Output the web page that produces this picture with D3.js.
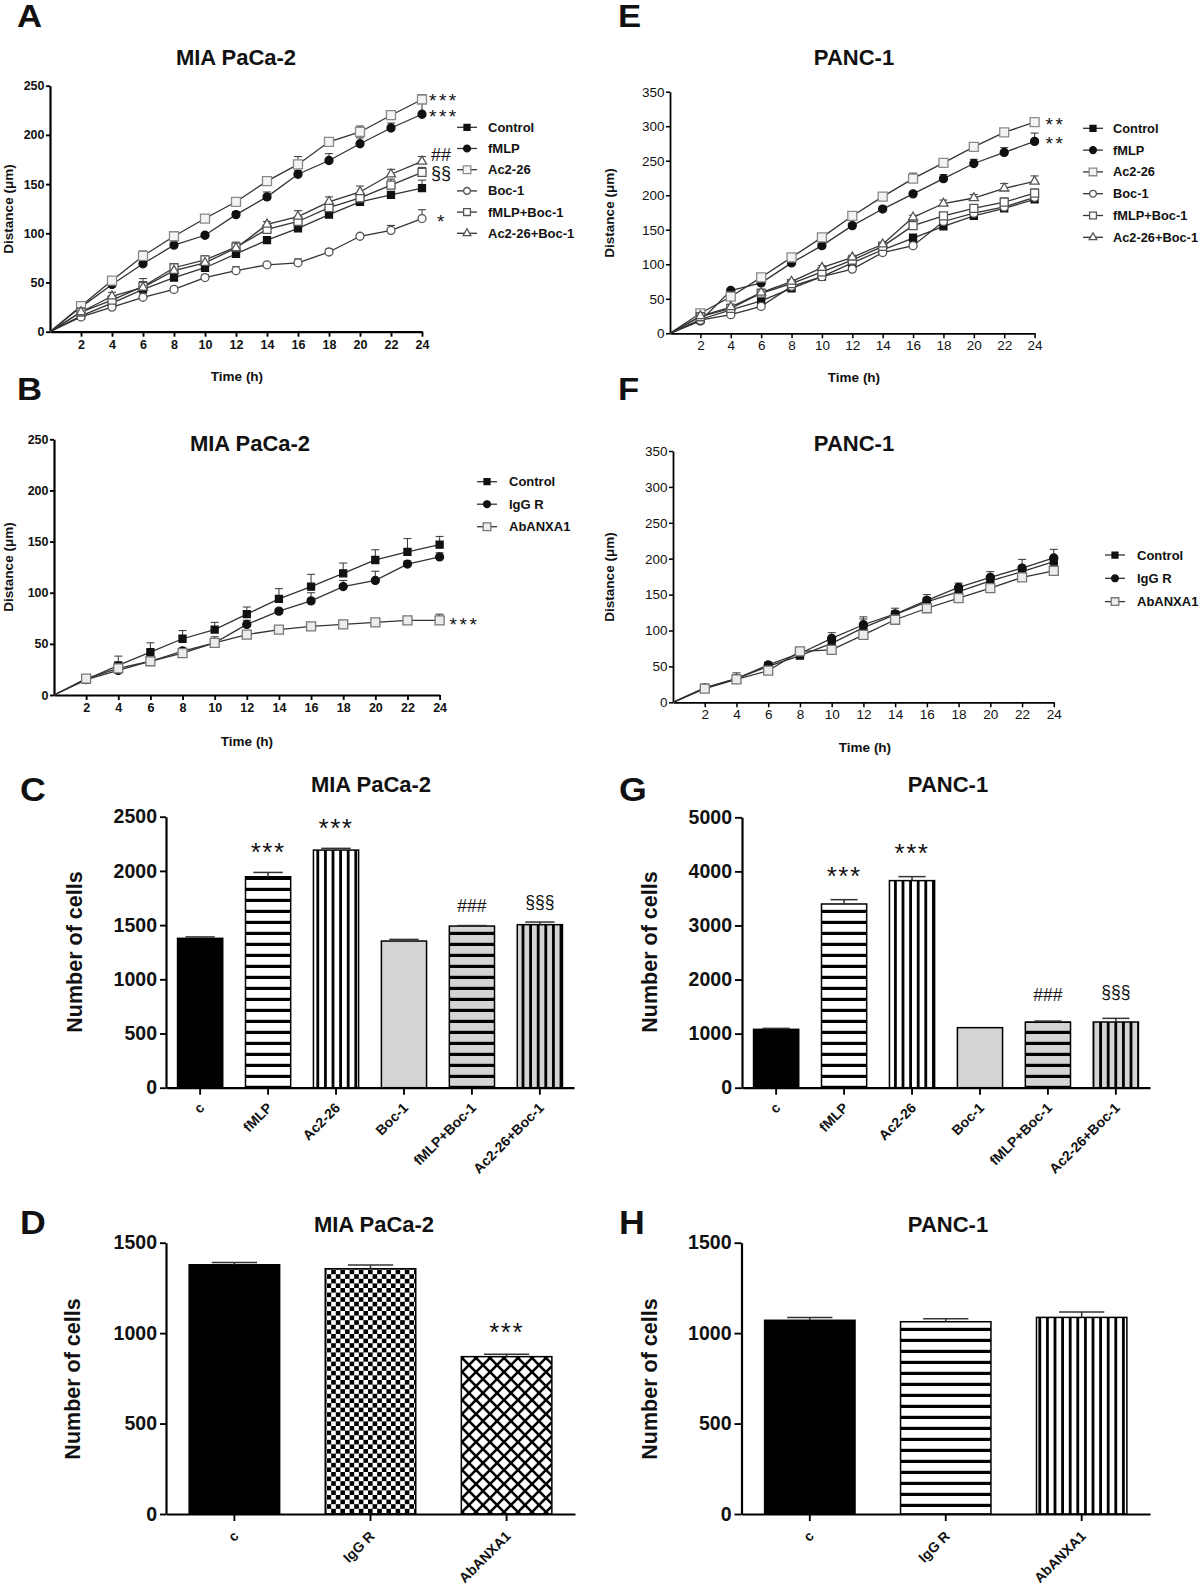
<!DOCTYPE html>
<html><head><meta charset="utf-8">
<script src="https://cdn.jsdelivr.net/npm/d3@7"></script>
<style>body{margin:0;background:#fff}svg{display:block}text{font-family:"Liberation Sans",Arial,Helvetica,sans-serif}</style>
</head><body><svg id="c" width="1200" height="1589"></svg>
<script>
// ---------------- DATA ----------------
const hours = [2,4,6,8,10,12,14,16,18,20,22,24];
const names6 = ["Control","fMLP","Ac2-26","Boc-1","fMLP+Boc-1","Ac2-26+Boc-1"];
const names3 = ["Control","IgG R","AbANXA1"];

// Panel A – MIA PaCa-2 distance (µm)
const A_Control = [16,29,43,55,65,79,93,105,119,132,139,146];
const A_fMLP    = [25,48,69,88,98,119,137,160,174,191,207,221];
const A_Ac226   = [26,52,77,97,115,132,153,170,193,203,220,236];
const A_Boc1    = [15,25,35,43,55,62,68,70,81,97,103,115];
const A_fMLPBoc1  = [20,32,46,65,73,86,104,112,126,136,149,162];
const A_Ac226Boc1 = [20,36,45,62,70,85,109,117,132,142,160,173];
const A_Control_err = [2,3,4,3,3,3,3,3,3,3,3,8];
const A_fMLP_err    = [2,2,3,2,2,3,5,4,7,6,5,12];
const A_Ac226_err   = [2,2,5,2,3,2,4,8,2,6,3,5];
const A_Boc1_err    = [2,2,2,2,3,4,2,4,3,2,5,9];
const A_fMLPBoc1_err  = [2,4,8,3,4,5,8,5,5,5,6,5];
const A_Ac226Boc1_err = [2,4,6,3,4,4,3,6,5,6,5,5];

// Panel E – PANC-1 distance (µm)
const E_Control = [20,34,47,65,82,102,121,138,155,170,181,194];
const E_fMLP    = [18,62,73,102,127,156,180,202,224,246,262,278];
const E_Ac226   = [29,53,81,110,139,170,198,224,247,270,291,306];
const E_Boc1    = [19,27,39,68,82,93,117,127,162,174,183,197];
const E_fMLPBoc1  = [24,36,58,72,89,106,126,156,170,181,190,203];
const E_Ac226Boc1 = [25,38,59,75,95,110,129,168,188,196,210,220];
const E_Control_err = [2,3,3,2,3,4,3,6,3,3,3,4];
const E_fMLP_err    = [2,3,3,3,3,3,4,3,6,6,7,12];
const E_Ac226_err   = [2,3,3,3,3,2,3,8,2,4,2,4];
const E_Boc1_err    = [2,2,3,2,2,3,3,3,3,3,3,4];
const E_fMLPBoc1_err  = [2,3,3,2,3,3,3,10,3,4,6,6];
const E_Ac226Boc1_err = [2,4,3,3,3,3,3,3,5,5,7,8];

// Panel B – MIA PaCa-2 distance (µm)
const B_Control = [15,29,42,55,64,79,94,106,119,132,140,147];
const B_IgG     = [15,24,33,43,51,69,82,92,106,112,128,135];
const B_Ab      = [16,26,33,41,51,59,64,67,69,71,73,73];
const B_Control_err = [3,9,9,8,7,7,10,12,10,10,13,8];
const B_IgG_err     = [2,2,2,3,6,4,2,8,6,9,3,4];
const B_Ab_err      = [3,3,2,3,4,3,2,3,3,3,2,6];

// Panel F – PANC-1 distance (µm)
const F_Control = [20,33,50,65,82,104,122,140,154,169,182,196];
const F_IgG     = [20,33,52,68,89,108,123,142,160,174,187,201];
const F_Ab      = [19,32,44,71,73,94,115,131,145,159,174,183];
const F_Control_err = [3,8,5,3,6,12,5,6,5,5,7,6];
const F_IgG_err     = [3,4,4,3,8,11,8,8,6,8,12,12];
const F_Ab_err      = [3,3,3,3,3,3,3,3,3,3,3,3];

// Bar panels
const C_cats = ["c","fMLP","Ac2-26","Boc-1","fMLP+Boc-1","Ac2-26+Boc-1"];
const C_values = [1378,1946,2192,1353,1491,1504];
const C_errors = [13,40,16,15,5,24];
const C_marks  = ["","***","***","","###","§§§"];
const G_values = [1079,3397,3829,1110,1215,1215];
const G_errors = [18,80,74,0,18,67];
const G_marks  = ["","***","***","","###","§§§"];
const D_cats = ["c","IgG R","AbANXA1"];
const D_values = [1378,1356,870];
const D_errors = [13,21,13];
const D_marks  = ["","","***"];
const H_values = [1071,1063,1087];
const H_errors = [16,17,30];
const H_marks  = ["","",""];

const ticksA = [0,50,100,150,200,250];
const ticksE = [0,50,100,150,200,250,300,350];
const ticksC = [0,500,1000,1500,2000,2500];
const ticksG = [0,1000,2000,3000,4000,5000];
const ticksD = [0,500,1000,1500];

// ---------------- DRAWING ----------------
const FONT = '"Liberation Sans", Arial, Helvetica, sans-serif';
const svg = d3.select("#c");
const defs = svg.append("defs");

const markerStyle = {
  "Control":      {type:"square",   fill:"#111", stroke:"#111", size:7},
  "fMLP":         {type:"circle",   fill:"#111", stroke:"#111", size:8},
  "Ac2-26":       {type:"square",   fill:"#f4f4f4", stroke:"#8a8a8a", size:9},
  "Boc-1":        {type:"circle",   fill:"#fff", stroke:"#555", size:8},
  "fMLP+Boc-1":   {type:"square",   fill:"#fff", stroke:"#555", size:8},
  "Ac2-26+Boc-1": {type:"triangle", fill:"#fff", stroke:"#555", size:9},
  "IgG R":        {type:"circle",   fill:"#111", stroke:"#111", size:8},
  "AbANXA1":      {type:"square",   fill:"#ececec", stroke:"#777", size:9}
};
function drawMarker(g, name, cx, cy, k) {
  k = k || 1;
  const st = markerStyle[name];
  const sym = {square:d3.symbolSquare, circle:d3.symbolCircle, triangle:d3.symbolTriangle}[st.type];
  const s = st.size * k;
  const area = st.type==="square" ? s*s : st.type==="circle" ? Math.PI*s*s/4 : s*s*0.45;
  g.append("path").attr("d", d3.symbol(sym, area)()).attr("transform",`translate(${cx},${cy})`)
    .attr("fill", st.fill).attr("stroke", st.stroke).attr("stroke-width", 1.3);
}
function txt(g, s, x, y, o) {
  o = o || {};
  const t = g.append("text").attr("x", x).attr("y", y).text(s)
    .attr("font-size", o.size || 13).attr("font-weight", o.weight || "bold")
    .attr("text-anchor", o.anchor || "start").attr("fill", o.fill || "#111");
  if (o.rotate) t.attr("transform", `rotate(${o.rotate},${x},${y})`);
  if (o.ls) t.attr("letter-spacing", o.ls);
  if (o.db) t.attr("dominant-baseline", o.db);
  return t;
}
function panelLetter(s, x, y, size, sx) {
  svg.append("text").attr("transform", `translate(${x},${y}) scale(${sx},1)`)
    .attr("font-size", size).attr("font-weight","bold").attr("fill","#111").text(s);
}
function styleAxis(a, w, fs, fw) {
  a.select(".domain").attr("stroke","#000").attr("stroke-width", w);
  a.selectAll(".tick line").attr("stroke","#000").attr("stroke-width", w*0.85);
  a.selectAll("text").attr("font-family", FONT).attr("font-size", fs).attr("font-weight", fw).attr("fill","#111");
}

function linePanel(c) {
  const g = svg.append("g");
  const x = d3.scaleLinear().domain([0,24]).range([c.x0, c.x1]);
  const y = d3.scaleLinear().domain([0,c.yMax]).range([c.yBottom, c.yTop]);
  const xa = g.append("g").attr("transform",`translate(0,${c.yBottom})`)
    .call(d3.axisBottom(x).tickValues(hours).tickSize(5).tickSizeOuter(0).tickPadding(c.xPad));
  const ya = g.append("g").attr("transform",`translate(${c.x0},0)`)
    .call(d3.axisLeft(y).tickValues(c.yTicks).tickSize(4).tickSizeOuter(0).tickPadding(1.5));
  styleAxis(xa, c.axisW, c.tickFs, c.tickW);
  styleAxis(ya, c.axisW, c.tickFs, c.tickW);
  const line = d3.line().x(d=>x(d[0])).y(d=>y(d[1]));
  c.series.forEach(s => {
    const pts = [[0,0]].concat(hours.map((h,i)=>[h, s.values[i]]));
    g.append("path").attr("d", line(pts)).attr("fill","none").attr("stroke","#333").attr("stroke-width",1.3);
  });
  c.series.forEach(s => {
    hours.forEach((h,i) => {
      const e = s.errors[i]; if (!e) return;
      const cx = x(h), y1 = y(s.values[i]), y2 = y(s.values[i]+e);
      g.append("line").attr("x1",cx).attr("x2",cx).attr("y1",y1).attr("y2",y2).attr("stroke","#444").attr("stroke-width",1.1);
      g.append("line").attr("x1",cx-4).attr("x2",cx+4).attr("y1",y2).attr("y2",y2).attr("stroke","#444").attr("stroke-width",1.1);
    });
  });
  c.series.forEach(s => hours.forEach((h,i) => drawMarker(g, s.name, x(h), y(s.values[i]))));
  // legend
  c.series.forEach((s,i) => {
    const ly = c.legY + i*c.legStep;
    g.append("line").attr("x1",c.legX).attr("x2",c.legX+20).attr("y1",ly).attr("y2",ly).attr("stroke","#333").attr("stroke-width",1.3);
    drawMarker(g, s.name, c.legX+10, ly, 0.85);
    txt(g, s.name, c.legX+c.legGap, ly, {size:c.legFs, weight:"bold", db:"central"});
  });
  // annotations at the 24 h point
  c.ann.forEach(a => {
    const s = c.series.find(d => d.name === a.series);
    txt(g, a.text, x(24)+a.dx, y(s.values[11])+a.dy, {size:a.size, weight:"normal", ls:a.ls||0});
  });
  txt(g, c.title, c.titleX, c.titleY, {size:22, anchor:"middle"});
  txt(g, "Time (h)", c.xLabX, c.xLabY, {size:13.5, anchor:"middle"});
  txt(g, "Distance (\u03bcm)", c.yLabX, c.yLabY, {size:13.5, anchor:"middle", rotate:-90});
}

// patterns
function stripes(id, bg, dir, period, thick) {
  const w = dir==="h" ? 10 : period, h = dir==="h" ? period : 10;
  const p = defs.append("pattern").attr("id",id).attr("patternUnits","userSpaceOnUse").attr("width",w).attr("height",h);
  p.append("rect").attr("width",w).attr("height",h).attr("fill",bg);
  if (dir==="h") p.append("rect").attr("y",period-thick).attr("width",w).attr("height",thick).attr("fill","#000");
  else p.append("rect").attr("x",period-thick).attr("width",thick).attr("height",h).attr("fill","#000");
}
stripes("hW","#fff","h",11,3.2);
stripes("vW","#fff","v",7.6,2.8);
stripes("hG","#d4d4d4","h",11,3.2);
stripes("vG","#d4d4d4","v",7.6,2.8);
(function(){
  const s = 4.6;
  const p = defs.append("pattern").attr("id","checker").attr("patternUnits","userSpaceOnUse").attr("width",2*s).attr("height",2*s);
  p.append("rect").attr("width",2*s).attr("height",2*s).attr("fill","#fff");
  p.append("rect").attr("width",s).attr("height",s).attr("fill","#000");
  p.append("rect").attr("x",s).attr("y",s).attr("width",s).attr("height",s).attr("fill","#000");
  const k = 14;
  const q = defs.append("pattern").attr("id","cross").attr("patternUnits","userSpaceOnUse").attr("width",k).attr("height",k);
  q.append("rect").attr("width",k).attr("height",k).attr("fill","#fff");
  [-k,0,k].forEach(o => {
    q.append("line").attr("x1",o).attr("y1",0).attr("x2",o+k).attr("y2",k).attr("stroke","#000").attr("stroke-width",2.6);
    q.append("line").attr("x1",o+k).attr("y1",0).attr("x2",o).attr("y2",k).attr("stroke","#000").attr("stroke-width",2.6);
  });
})();
const fillMap = {black:"#000", grey:"#d4d4d4", hW:"url(#hW)", vW:"url(#vW)", hG:"url(#hG)", vG:"url(#vG)", checker:"url(#checker)", cross:"url(#cross)"};

function barPanel(c) {
  const g = svg.append("g");
  const x = d3.scaleBand().domain(c.cats).range([c.xLeft, c.xRight]).paddingInner(0.335).paddingOuter(0.17);
  const y = d3.scaleLinear().domain([0,c.yMax]).range([c.yBottom, c.yTop]);
  c.values.forEach((v,i) => {
    const cat = c.cats[i];
    g.append("rect").attr("x", x(cat)).attr("y", y(v)).attr("width", x.bandwidth()).attr("height", y(0)-y(v))
      .attr("fill", fillMap[c.fills[i]]).attr("stroke","#000").attr("stroke-width",1.5);
    const e = c.errors[i];
    if (e > 0) {
      const cx = x(cat) + x.bandwidth()/2, cw = x.bandwidth()*c.capFrac/2;
      g.append("line").attr("x1",cx).attr("x2",cx).attr("y1",y(v)).attr("y2",y(v+e)).attr("stroke","#333").attr("stroke-width",1.5);
      g.append("line").attr("x1",cx-cw).attr("x2",cx+cw).attr("y1",y(v+e)).attr("y2",y(v+e)).attr("stroke","#333").attr("stroke-width",1.5);
    }
    const m = c.marks[i];
    if (m) {
      const star = m[0] === "*";
      txt(g, m, x(cat)+x.bandwidth()/2, y(v+e) - (star ? c.starGap : c.symGap),
        {size: star ? 26 : 17.5, weight:"normal", anchor:"middle", ls: star ? 1.5 : 0});
    }
  });
  const xa = g.append("g").attr("transform",`translate(0,${c.yBottom})`)
    .call(d3.axisBottom(x).tickSize(7).tickSizeOuter(0));
  const ya = g.append("g").attr("transform",`translate(${c.xLeft},0)`)
    .call(d3.axisLeft(y).tickValues(c.yTicks).tickFormat(d3.format("d")).tickSize(c.yTick).tickSizeOuter(0).tickPadding(3));
  styleAxis(xa, 2.2, 14, "bold");
  styleAxis(ya, 2.2, 19.5, "bold");
  xa.selectAll(".tick text").attr("text-anchor","end").attr("dy",0).attr("y",0)
    .attr("transform", `translate(5,${c.labOff}) rotate(-45)`).attr("font-size",14);
  txt(g, c.title, c.titleX, c.titleY, {size:22, anchor:"middle"});
  txt(g, "Number of cells", c.yLabX, c.yLabY, {size:21.5, anchor:"middle", rotate:-90});
}

// ---- Panel letters ----
panelLetter("A", 17, 27, 31, 1.12);
panelLetter("E", 618, 27, 31, 1.12);
panelLetter("B", 17, 400, 31, 1.12);
panelLetter("F", 618, 400, 31, 1.12);
panelLetter("C", 20, 801, 34, 1.05);
panelLetter("G", 619, 801, 34, 1.05);
panelLetter("D", 20, 1234, 34, 1.05);
panelLetter("H", 619, 1234, 34, 1.05);

// ---- Line panels ----
linePanel({
  x0:50, x1:422, yTop:85.7, yBottom:331.7, yMax:250, yTicks:ticksA, axisW:2.2, tickFs:12.5, tickW:"bold", xPad:3,
  series:names6.map((n,i)=>({name:n,
    values:[A_Control,A_fMLP,A_Ac226,A_Boc1,A_fMLPBoc1,A_Ac226Boc1][i],
    errors:[A_Control_err,A_fMLP_err,A_Ac226_err,A_Boc1_err,A_fMLPBoc1_err,A_Ac226Boc1_err][i]})),
  legX:457, legY:127.3, legStep:21.2, legFs:13, legGap:31,
  ann:[
    {series:"Ac2-26", text:"***", dx:7, dy:8, size:19, ls:2.5},
    {series:"fMLP", text:"***", dx:7, dy:9, size:19, ls:2.5},
    {series:"Ac2-26+Boc-1", text:"##", dx:9, dy:0, size:18},
    {series:"fMLP+Boc-1", text:"\u00a7\u00a7", dx:9, dy:7, size:18},
    {series:"Boc-1", text:"*", dx:15, dy:9, size:19}
  ],
  title:"MIA PaCa-2", titleX:236, titleY:65, xLabX:237, xLabY:381, yLabX:13, yLabY:209
});
linePanel({
  x0:670, x1:1034.6, yTop:91.7, yBottom:333.3, yMax:350, yTicks:ticksE, axisW:1.8, tickFs:13.5, tickW:"normal", xPad:2,
  series:names6.map((n,i)=>({name:n,
    values:[E_Control,E_fMLP,E_Ac226,E_Boc1,E_fMLPBoc1,E_Ac226Boc1][i],
    errors:[E_Control_err,E_fMLP_err,E_Ac226_err,E_Boc1_err,E_fMLPBoc1_err,E_Ac226Boc1_err][i]})),
  legX:1083, legY:128.3, legStep:21.8, legFs:12.8, legGap:30,
  ann:[
    {series:"Ac2-26", text:"**", dx:11, dy:9, size:19, ls:2.5},
    {series:"fMLP", text:"**", dx:11, dy:9, size:19, ls:2.5}
  ],
  title:"PANC-1", titleX:854, titleY:65, xLabX:854, xLabY:382, yLabX:614, yLabY:213
});
linePanel({
  x0:54, x1:439.6, yTop:439.3, yBottom:695, yMax:250, yTicks:ticksA, axisW:2.2, tickFs:12.5, tickW:"bold", xPad:3,
  series:names3.map((n,i)=>({name:n, values:[B_Control,B_IgG,B_Ab][i], errors:[B_Control_err,B_IgG_err,B_Ab_err][i]})),
  legX:477, legY:481.7, legStep:22.5, legFs:13, legGap:32,
  ann:[{series:"AbANXA1", text:"***", dx:10, dy:11, size:19, ls:2.5}],
  title:"MIA PaCa-2", titleX:250, titleY:451, xLabX:247, xLabY:746, yLabX:13, yLabY:567
});
linePanel({
  x0:673, x1:1053.8, yTop:451, yBottom:702.3, yMax:350, yTicks:ticksE, axisW:1.8, tickFs:13.5, tickW:"normal", xPad:2,
  series:names3.map((n,i)=>({name:n, values:[F_Control,F_IgG,F_Ab][i], errors:[F_Control_err,F_IgG_err,F_Ab_err][i]})),
  legX:1105, legY:555, legStep:23.3, legFs:13, legGap:32,
  ann:[],
  title:"PANC-1", titleX:854, titleY:451, xLabX:865, xLabY:752, yLabX:614, yLabY:577
});

// ---- Bar panels ----
barPanel({cats:C_cats, values:C_values, errors:C_errors, marks:C_marks,
  fills:["black","hW","vW","grey","hG","vG"], xLeft:166, xRight:574, yTop:816.7, yBottom:1087.7, yMax:2500, yTicks:ticksC,
  yTick:6, capFrac:0.65, starGap:11.5, symGap:14, labOff:21,
  title:"MIA PaCa-2", titleX:371, titleY:792, yLabX:82, yLabY:952});
barPanel({cats:C_cats, values:G_values, errors:G_errors, marks:G_marks,
  fills:["black","hW","vW","grey","hG","vG"], xLeft:742, xRight:1150, yTop:817.3, yBottom:1087.7, yMax:5000, yTicks:ticksG,
  yTick:7, capFrac:0.6, starGap:15, symGap:20, labOff:21,
  title:"PANC-1", titleX:948, titleY:792, yLabX:657, yLabY:952});
barPanel({cats:D_cats, values:D_values, errors:D_errors, marks:D_marks,
  fills:["black","checker","cross"], xLeft:166, xRight:575, yTop:1242.7, yBottom:1514, yMax:1500, yTicks:ticksD,
  yTick:6, capFrac:0.5, starGap:13, symGap:15, labOff:23,
  title:"MIA PaCa-2", titleX:374, titleY:1232, yLabX:80, yLabY:1379});
barPanel({cats:D_cats, values:H_values, errors:H_errors, marks:H_marks,
  fills:["black","hW","vW"], xLeft:741.5, xRight:1150, yTop:1242.7, yBottom:1514, yMax:1500, yTicks:ticksD,
  yTick:7, capFrac:0.5, starGap:13, symGap:15, labOff:23,
  title:"PANC-1", titleX:948, titleY:1232, yLabX:657, yLabY:1379});
</script></body></html>
